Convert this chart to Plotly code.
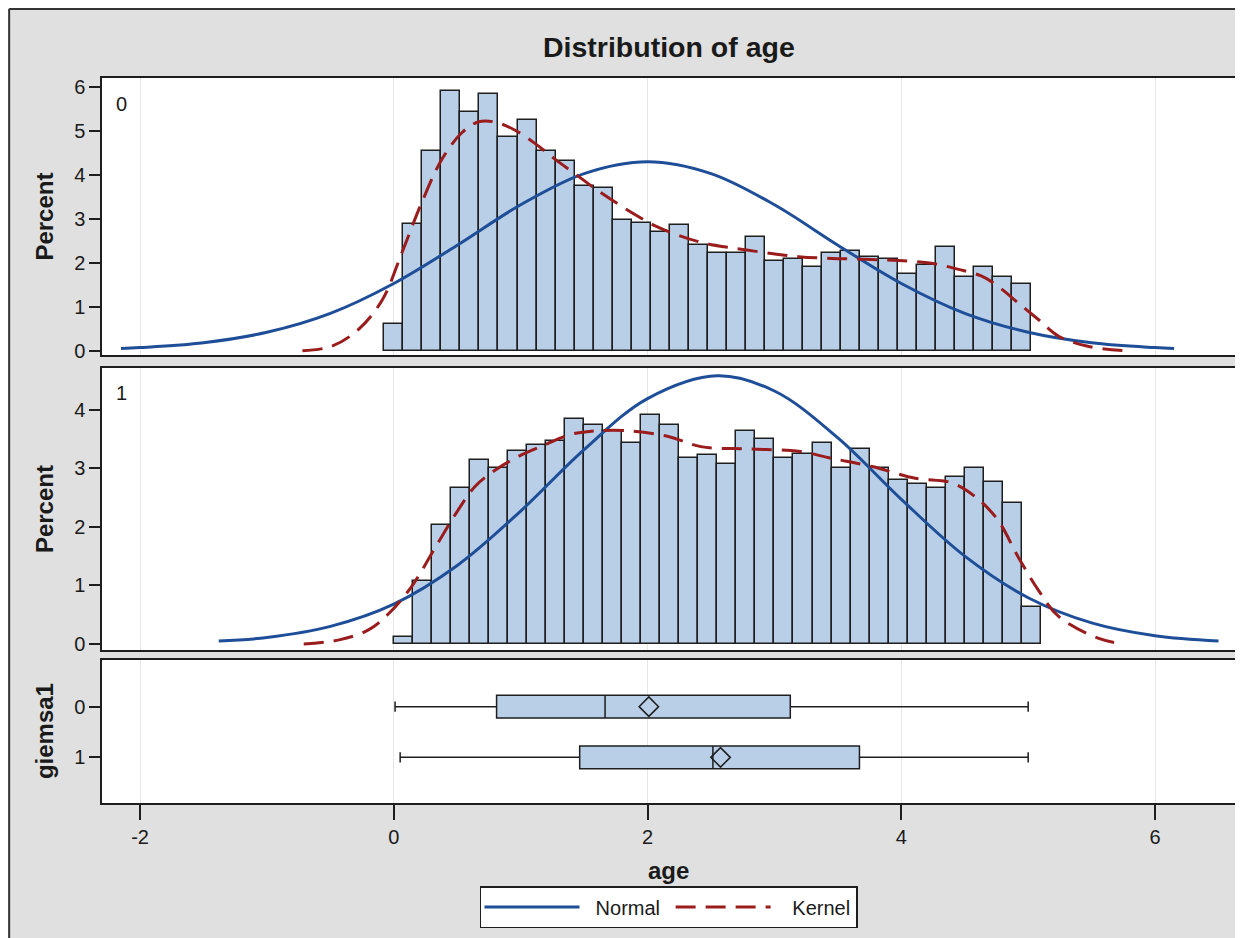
import plotly.graph_objects as go

# ---------------- data ----------------
bin_mid_0 = [0.00, 0.15, 0.30, 0.45, 0.60, 0.75, 0.90, 1.05, 1.20, 1.35, 1.50, 1.65,
             1.80, 1.95, 2.10, 2.25, 2.40, 2.55, 2.70, 2.85, 3.00, 3.15, 3.30, 3.45,
             3.60, 3.75, 3.90, 4.05, 4.20, 4.35, 4.50, 4.65, 4.80, 4.95]
pct_0 = [0.61, 2.89, 4.55, 5.92, 5.43, 5.84, 4.86, 5.25, 4.55, 4.32, 3.74, 3.70,
         2.97, 2.90, 2.71, 2.85, 2.40, 2.23, 2.23, 2.59, 2.04, 2.09, 1.91, 2.23,
         2.27, 2.14, 2.08, 1.74, 1.95, 2.36, 1.68, 1.90, 1.68, 1.51]

bin_mid_1 = [0.075, 0.225, 0.375, 0.525, 0.675, 0.825, 0.975, 1.125, 1.275, 1.425,
             1.575, 1.725, 1.875, 2.025, 2.175, 2.325, 2.475, 2.625, 2.775, 2.925,
             3.075, 3.225, 3.375, 3.525, 3.675, 3.825, 3.975, 4.125, 4.275, 4.425,
             4.575, 4.725, 4.875, 5.025]
pct_1 = [0.125, 1.08, 2.03, 2.67, 3.15, 3.00, 3.30, 3.40, 3.47, 3.84, 3.74, 3.64,
         3.43, 3.91, 3.74, 3.17, 3.23, 3.07, 3.64, 3.50, 3.17, 3.24, 3.44, 3.00,
         3.33, 3.00, 2.80, 2.73, 2.67, 2.86, 3.00, 2.76, 2.40, 0.63]

normal_x_0 = [-2.15, -2.0, -1.5, -1.0, -0.5, 0.0, 0.5, 1.0, 1.5, 2.0, 2.5, 3.0,
              3.5, 4.0, 4.5, 5.0, 5.5, 6.0, 6.15]
normal_y_0 = [0.05, 0.07, 0.18, 0.42, 0.85, 1.53, 2.40, 3.32, 4.03, 4.30, 4.03, 3.32,
              2.40, 1.53, 0.85, 0.42, 0.18, 0.07, 0.05]

kernel_x_0 = [-0.72, -0.49, -0.28, -0.09, 0.06, 0.22, 0.38, 0.54, 0.67, 0.80, 0.96,
              1.12, 1.27, 1.43, 1.59, 1.75, 1.90, 2.06, 2.22, 2.43, 2.66, 2.93, 3.19,
              3.45, 3.71, 3.98, 4.24, 4.45, 4.63, 4.76, 4.92, 5.08, 5.24, 5.47, 5.75]
kernel_y_0 = [0.00, 0.10, 0.48, 1.16, 2.20, 3.37, 4.36, 4.97, 5.21, 5.20, 5.01,
              4.70, 4.36, 4.02, 3.68, 3.37, 3.10, 2.84, 2.65, 2.46, 2.34, 2.23, 2.14,
              2.10, 2.08, 2.05, 1.99, 1.85, 1.70, 1.47, 1.09, 0.71, 0.33, 0.10, 0.00]

normal_x_1 = [-1.38, -1.0, -0.5, 0.0, 0.5, 1.0, 1.5, 2.0, 2.55, 3.0, 3.5, 4.0, 4.5,
              5.0, 5.5, 6.0, 6.5]
normal_y_1 = [0.05, 0.11, 0.30, 0.68, 1.34, 2.27, 3.32, 4.19, 4.58, 4.32, 3.52, 2.47,
              1.50, 0.79, 0.36, 0.14, 0.05]

kernel_x_1 = [-0.71, -0.43, -0.20, -0.04, 0.14, 0.33, 0.49, 0.64, 0.80, 0.98, 1.19,
              1.38, 1.54, 1.85, 2.17, 2.42, 2.80, 3.19, 3.45, 3.77, 4.11, 4.40, 4.58,
              4.76, 4.92, 5.08, 5.24, 5.55, 5.75]
kernel_y_1 = [0.00, 0.07, 0.24, 0.52, 0.98, 1.66, 2.23, 2.69, 2.97, 3.20, 3.40,
              3.57, 3.63, 3.64, 3.54, 3.37, 3.33, 3.29, 3.17, 3.03, 2.83, 2.75, 2.52,
              2.12, 1.49, 0.92, 0.47, 0.10, 0.00]

groups = ["0", "1"]
box_min = [0.01, 0.05]
box_q1 = [0.81, 1.465]
box_median = [1.665, 2.515]
box_mean = [2.01, 2.575]
box_q3 = [3.125, 3.67]
box_max = [5.00, 5.00]

x_ticks = [-2, 0, 2, 4, 6]
x_tick_text = ["-2", "0", "2", "4", "6"]

# ---------------- style ----------------
FONT = "Arial, Liberation Sans, sans-serif"
BAR_FILL = "#B9CFE7"
EDGE = "#1E1E1E"
NORMAL_C = "#1F4E98"
KERNEL_C = "#9A1C1C"
TXT = "#1A1A1A"

OFF = 8  # page body margin: figure starts at page (8, 8)
W, H = 1243 - OFF, 938 - OFF
L, R, T, B = 102 - OFF, 6, 78 - OFF, 135
PW, PH = W - L - R, H - T - B


def px_x(px):
    """page x pixel -> paper fraction"""
    return (px - OFF - L) / PW


def px_y(py):
    """page y pixel -> paper fraction"""
    return (H - B - (py - OFF)) / PH


fig = go.Figure()

panels = [
    ("x", "y", bin_mid_0, pct_0, normal_x_0, normal_y_0, kernel_x_0, kernel_y_0, True),
    ("x2", "y2", bin_mid_1, pct_1, normal_x_1, normal_y_1, kernel_x_1, kernel_y_1, False),
]
for xa, ya, mids, pcts, nx, ny, kx, ky, show in panels:
    fig.add_trace(go.Bar(x=mids, y=pcts, width=0.15,
                         marker=dict(color=BAR_FILL, line=dict(color=EDGE, width=1.5)),
                         xaxis=xa, yaxis=ya, showlegend=False, hoverinfo="skip"))
    fig.add_trace(go.Scatter(x=nx, y=ny, mode="lines", name="\u00a0\u00a0Normal\u00a0",
                             legendgroup="n",
                             line=dict(color=NORMAL_C, width=3, shape="spline"),
                             xaxis=xa, yaxis=ya, showlegend=show))
    fig.add_trace(go.Scatter(x=kx, y=ky, mode="lines", name="\u00a0\u00a0\u00a0Kernel",
                             legendgroup="k",
                             line=dict(color=KERNEL_C, width=3, dash="20px,10px", shape="spline"),
                             xaxis=xa, yaxis=ya, showlegend=show))

for i, g in enumerate(groups):
    fig.add_trace(go.Box(y=[i], q1=[box_q1[i]], median=[box_median[i]], q3=[box_q3[i]],
                         lowerfence=[box_min[i]], upperfence=[box_max[i]],
                         orientation="h", width=0.45, whiskerwidth=0.45,
                         fillcolor=BAR_FILL, line=dict(color=EDGE, width=1.5),
                         boxpoints=False, xaxis="x3", yaxis="y3", showlegend=False,
                         name=g))
fig.add_trace(go.Scatter(x=box_mean, y=[0, 1], mode="markers",
                         marker=dict(symbol="diamond-open", size=15, color=EDGE,
                                     line=dict(width=1.5, color=EDGE)),
                         xaxis="x3", yaxis="y3", showlegend=False))

common_x = dict(range=[-2.30, 6.63], showgrid=True, gridcolor="#E6E6E6", gridwidth=1,
                tickvals=x_ticks, ticktext=x_tick_text, zeroline=False, showline=True,
                mirror=True, linecolor=EDGE, linewidth=1.5)
common_y = dict(showgrid=False, zeroline=False, showline=True, mirror=True,
                linecolor=EDGE, linewidth=1.5, ticks="outside", ticklen=11,
                tickwidth=1.5, tickcolor=EDGE,
                tickfont=dict(family=FONT, size=20, color=TXT))

fig.update_layout(
    width=W, height=H,
    margin=dict(l=L, r=R, t=T, b=B),
    paper_bgcolor="#E0E0E0", plot_bgcolor="white",
    bargap=0, barmode="overlay",
    font=dict(family=FONT, color=TXT),
    xaxis=dict(common_x, anchor="y", domain=[0, 1], showticklabels=False, ticks=""),
    xaxis2=dict(common_x, anchor="y2", domain=[0, 1], showticklabels=False, ticks=""),
    xaxis3=dict(common_x, anchor="y3", domain=[0, 1], ticks="outside", ticklen=15,
                tickwidth=1.5, tickcolor=EDGE,
                tickfont=dict(family=FONT, size=20, color=TXT)),
    yaxis=dict(common_y, anchor="x", domain=[px_y(355), 1.0], range=[-0.098, 6.205],
               tickvals=[0, 1, 2, 3, 4, 5, 6]),
    yaxis2=dict(common_y, anchor="x2", domain=[px_y(650), px_y(368)], range=[-0.103, 4.713],
                tickvals=[0, 1, 2, 3, 4]),
    yaxis3=dict(common_y, anchor="x3", domain=[0, px_y(660)], range=[1.90, -0.92],
                tickvals=[0, 1], ticktext=groups),
    legend=dict(orientation="h", x=0.5, xanchor="center", y=px_y(886), yanchor="top",
                bgcolor="white", bordercolor=EDGE, borderwidth=1.5, itemwidth=95,
                font=dict(family=FONT, size=20, color=TXT)),
    showlegend=True,
)

ann = []
ann.append(dict(text="<b>Distribution of age</b>", x=0.5, y=px_y(47), xref="paper", yref="paper",
                showarrow=False, xanchor="center", yanchor="middle",
                font=dict(family=FONT, size=28.5, color=TXT)))
for txt, yc in [("Percent", 216.5), ("Percent", 509), ("giemsa1", 731)]:
    ann.append(dict(text="<b>%s</b>" % txt, x=px_x(44), y=px_y(yc), xref="paper", yref="paper",
                    showarrow=False, textangle=-90, xanchor="center", yanchor="middle",
                    font=dict(family=FONT, size=24, color=TXT)))
ann.append(dict(text="<b>age</b>", x=0.5, y=px_y(870), xref="paper", yref="paper",
                showarrow=False, xanchor="center", yanchor="middle",
                font=dict(family=FONT, size=24, color=TXT)))
for txt, yc in [("0", 104), ("1", 393)]:
    ann.append(dict(text=txt, x=px_x(122), y=px_y(yc), xref="paper", yref="paper",
                    showarrow=False, xanchor="center", yanchor="middle",
                    font=dict(family=FONT, size=20, color=TXT)))
fig.update_layout(annotations=ann)

# outer frame lines (left and top edges of the figure)
x_edge = px_x(9)
y_edge = px_y(9)
shapes = [
    dict(type="line", xref="paper", yref="paper", x0=x_edge, x1=x_edge, y0=px_y(H + 20),
         y1=y_edge, line=dict(color="#333333", width=2)),
    dict(type="line", xref="paper", yref="paper", x0=x_edge, x1=px_x(W + 30), y0=y_edge,
         y1=y_edge, line=dict(color="#333333", width=2)),
]
fig.update_layout(shapes=shapes)

fig.write_html("out.html")
